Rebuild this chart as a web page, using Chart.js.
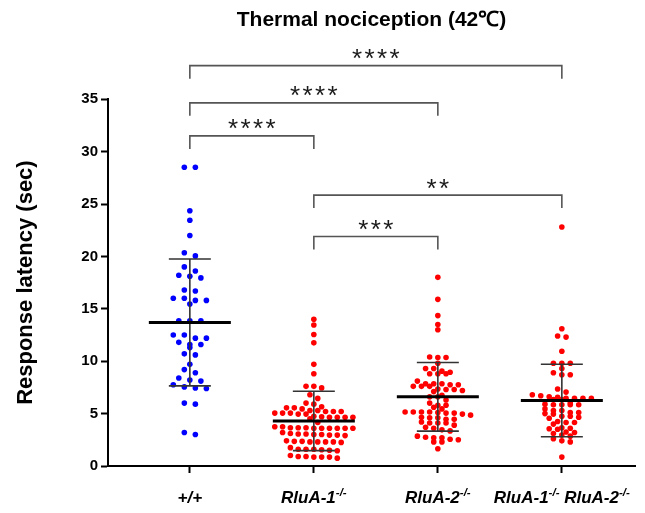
<!DOCTYPE html>
<html>
<head>
<meta charset="utf-8">
<script src="https://cdn.jsdelivr.net/npm/chart.js@4/dist/chart.umd.min.js"></script>
<style>
  html, body { margin: 0; padding: 0; background: #fff; }
</style>
</head>
<body>
<canvas id="chart" width="645" height="513"></canvas>
<script>
// genotypes on the x axis ("-/-" is drawn as a superscript)
const categories = ['+/+', 'RluA-1-/-', 'RluA-2-/-', 'RluA-1-/- RluA-2-/-'];

// response latency (sec)
const wildType = [28.5, 28.5, 24.35, 23.45, 22.0, 20.35, 20.05, 19.0, 18.6, 18.2, 18.1, 17.95,
  16.8, 16.7, 16.0, 16.0, 15.8, 15.8, 15.45, 13.85, 13.85, 13.85, 12.5, 12.5, 12.2, 12.2,
  11.8, 11.6, 11.6, 11.3, 10.7, 10.6, 9.7, 9.2, 8.9, 8.4, 8.2, 8.1, 7.75, 7.55, 7.45, 7.4,
  6.0, 5.9, 3.2, 3.0];
const rluA1 = [14.0, 13.45, 12.55, 11.75, 9.7, 8.8, 7.6, 7.6, 7.45, 6.8, 6.45, 6.0, 5.9,
  5.65, 5.55, 5.55, 5.45, 5.3, 5.3, 5.2, 5.2, 5.2, 5.05, 5.05, 5.05, 4.95, 4.95,
  4.75, 4.7, 4.65, 4.65, 4.65, 4.65, 4.5, 4.15,
  3.75, 3.75, 3.65, 3.65, 3.65, 3.6, 3.6, 3.6, 3.6, 3.6, 3.6,
  3.2, 3.1, 3.05, 3.05, 3.0, 3.0, 2.95, 2.95, 2.9,
  2.4, 2.35, 2.35, 2.3, 2.3, 2.3, 2.3, 2.25,
  1.75, 1.6, 1.6, 1.6, 1.55, 1.5, 1.45,
  1.0, 0.9, 0.9, 0.85, 0.85, 0.85, 0.75];
const rluA2 = [18.0, 15.9, 14.35, 13.5, 13.0, 10.4, 10.35, 10.35, 9.8, 9.3, 9.3, 9.05, 8.95,
  8.8, 8.8, 8.8, 8.1, 7.85, 7.85, 7.85, 7.75, 7.75, 7.6, 7.6, 7.6,
  7.35, 7.3, 7.3, 7.2, 7.1, 6.75, 6.6, 6.6, 6.3,
  6.0, 5.8, 5.8, 5.6, 5.45, 5.15, 5.15, 5.15, 5.15, 5.1, 5.05, 5.05, 4.95, 4.85, 4.65,
  4.6, 4.6, 4.45, 4.45, 4.2, 4.1, 4.1, 4.1, 3.9, 3.7, 3.6, 3.45, 3.35,
  2.85, 2.75, 2.7, 2.7, 2.55, 2.5, 2.3, 2.3, 1.65];
const rluA12 = [22.8, 13.1, 12.4, 12.3, 10.95, 9.8, 9.8, 9.8, 9.3, 8.9, 8.7, 8.7, 7.35,
  7.05, 6.8, 6.7, 6.6, 6.55, 6.45, 6.45, 6.45, 6.45, 6.35, 6.35,
  6.0, 5.9, 5.85, 5.85, 5.85, 5.85, 5.45, 5.3, 5.3, 5.1, 5.1, 5.0, 4.95,
  4.75, 4.75, 4.65, 4.55, 4.25, 4.15, 4.15, 4.0, 3.65, 3.6, 3.55, 3.5,
  3.25, 3.2, 3.1, 2.95, 2.85, 2.6, 2.4, 2.3, 0.85];

// mean and SD drawn for each group
const groupMeans = [13.7, 4.3, 6.6, 6.25];
const groupSDs = [6.05, 2.83, 3.27, 3.46];

// significance brackets: compared groups, height (sec), label
const bracketPairs = [[0, 3], [0, 2], [0, 1], [1, 3], [1, 2]];
const bracketLevels = [38.2, 34.65, 31.5, 25.85, 21.9];
const bracketLabels = ['****', '****', '****', '**', '***'];

const groupValues = [wildType, rluA1, rluA2, rluA12];
const groupColors = ['#0000ff', '#ff0000', '#ff0000', '#ff0000'];
const groupSpacing = [0.089, 0.063, 0.066, 0.068]; // column step, in category widths

const FONT = '"Liberation Sans", Arial, Helvetica, sans-serif';

// GraphPad-like scatter: points binned into rows, each row centred on its group
function swarm(values, spacing, rowGap) {
  const sorted = values.slice().sort((a, b) => b - a);
  const out = [];
  let row = [];
  const flush = () => {
    row.forEach((v, i) => out.push({ dx: (i - (row.length - 1) / 2) * spacing, y: v }));
    row = [];
  };
  sorted.forEach(v => {
    if (row.length && row[0] - v >= rowGap) flush();
    row.push(v);
  });
  flush();
  return out;
}

const datasets = groupValues.map((vals, g) => ({
  data: swarm(vals, groupSpacing[g], 0.4).map(p => ({ x: g + p.dx, y: p.y })),
  backgroundColor: groupColors[g],
  pointRadius: 2.8,
  pointBorderWidth: 0,
  clip: false
}));

const overlay = {
  id: 'overlay',
  afterDatasetsDraw(chart) {
    const { ctx, scales: { x, y } } = chart;
    ctx.save();

    // mean +/- SD
    groupMeans.forEach((m, g) => {
      const cx = x.getPixelForValue(g);
      const top = y.getPixelForValue(m + groupSDs[g]);
      const bot = y.getPixelForValue(m - groupSDs[g]);
      const my = y.getPixelForValue(m);
      ctx.strokeStyle = '#333';
      ctx.lineWidth = 1.6;
      ctx.beginPath();
      ctx.moveTo(cx, top); ctx.lineTo(cx, bot);
      ctx.moveTo(cx - 21, top); ctx.lineTo(cx + 21, top);
      ctx.moveTo(cx - 21, bot); ctx.lineTo(cx + 21, bot);
      ctx.stroke();
      ctx.strokeStyle = '#000';
      ctx.lineWidth = 3;
      ctx.beginPath();
      ctx.moveTo(cx - 41, my); ctx.lineTo(cx + 41, my);
      ctx.stroke();
    });

    // brackets with asterisks
    ctx.font = '26px ' + FONT;
    ctx.textAlign = 'center';
    ctx.textBaseline = 'alphabetic';
    const m = ctx.measureText('*');
    const starShift = (m.actualBoundingBoxAscent - m.actualBoundingBoxDescent) / 2;
    bracketPairs.forEach(([a, b], i) => {
      const x1 = x.getPixelForValue(a);
      const x2 = x.getPixelForValue(b);
      const by = y.getPixelForValue(bracketLevels[i]);
      ctx.strokeStyle = '#555';
      ctx.lineWidth = 1.6;
      ctx.beginPath();
      ctx.moveTo(x1, by + 13); ctx.lineTo(x1, by); ctx.lineTo(x2, by); ctx.lineTo(x2, by + 13);
      ctx.stroke();
      const n = bracketLabels[i].length;
      const mid = (x1 + x2) / 2;
      ctx.fillStyle = '#1a1a1a';
      for (let k = 0; k < n; k++) {
        ctx.fillText('*', mid + (k - (n - 1) / 2) * 12.5, by - 11.5 + starShift);
      }
    });

    // x labels, "-/-" raised as superscript
    ctx.fillStyle = '#000';
    ctx.textAlign = 'left';
    ctx.textBaseline = 'alphabetic';
    const mainFont = 'italic bold 17px ' + FONT;
    const supFont = 'italic bold 11.5px ' + FONT;
    categories.forEach((label, g) => {
      const parts = label.split(/(-\/-)/).filter(s => s.length);
      const widths = parts.map(p => {
        ctx.font = p === '-/-' ? supFont : mainFont;
        return ctx.measureText(p).width;
      });
      let px = x.getPixelForValue(g) - widths.reduce((s, w) => s + w, 0) / 2;
      parts.forEach((p, k) => {
        const sup = p === '-/-';
        ctx.font = sup ? supFont : mainFont;
        ctx.fillText(p, px, sup ? 496 : 503);
        px += widths[k];
      });
    });
    ctx.restore();
  }
};

new Chart(document.getElementById('chart'), {
  type: 'scatter',
  data: { datasets },
  options: {
    responsive: false,
    animation: false,
    events: [],
    layout: { padding: { left: 0, right: 10, top: 0, bottom: 0 } },
    plugins: {
      legend: { display: false },
      tooltip: { enabled: false },
      title: {
        display: true,
        text: 'Thermal nociception (42\u2103)',
        fullSize: false,
        color: '#000',
        font: { family: FONT, size: 21, weight: 'bold', lineHeight: 1.2 },
        padding: { top: 8, bottom: 66 }
      }
    },
    scales: {
      x: {
        type: 'linear',
        min: -0.66,
        max: 3.59,
        afterFit: s => { s.height = 47; },
        afterBuildTicks: s => { s.ticks = categories.map((c, i) => ({ value: i })); },
        grid: { drawOnChartArea: false, tickLength: 7, tickWidth: 2, color: '#000' },
        border: { display: true, width: 2, color: '#000' },
        ticks: { callback: () => '' }
      },
      y: {
        min: 0,
        max: 35,
        afterFit: s => { s.width = 108; },
        grid: { drawOnChartArea: false, tickLength: 7, tickWidth: 2, color: '#000' },
        border: { display: true, width: 2, color: '#000' },
        ticks: {
          stepSize: 5,
          padding: 3,
          color: '#000',
          font: { family: FONT, size: 15, weight: 'bold' }
        },
        title: {
          display: true,
          text: 'Response latency (sec)',
          color: '#000',
          font: { family: FONT, size: 22, weight: 'bold' },
          padding: { top: 13, bottom: 0 }
        }
      }
    }
  },
  plugins: [overlay]
});
</script>
</body>
</html>
